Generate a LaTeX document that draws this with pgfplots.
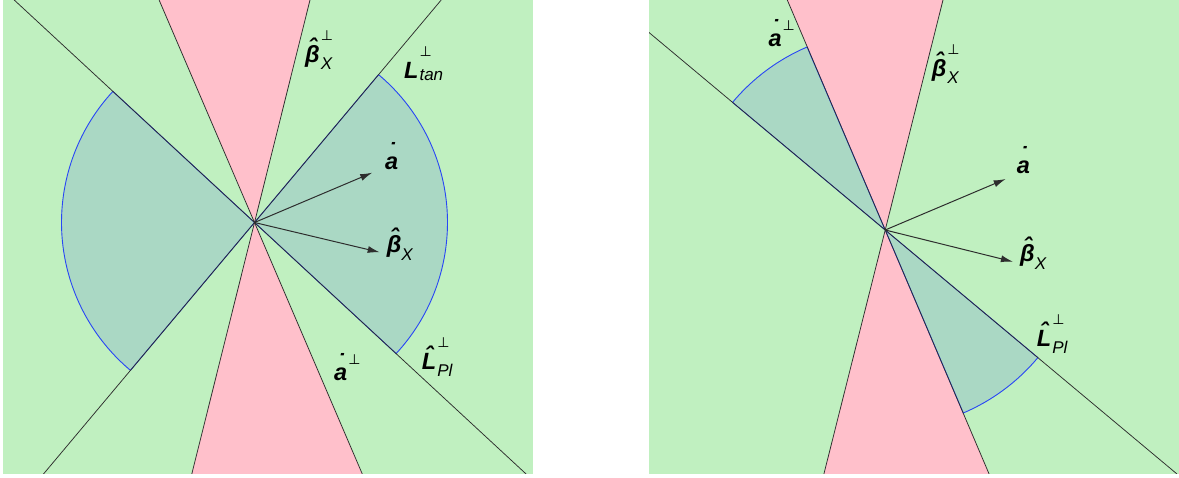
\documentclass[border=0pt]{standalone}
\usepackage{pgfplots}
\pgfplotsset{compat=1.18}
\usetikzlibrary{arrows.meta}
\usepackage{fontspec}
\setmainfont{Liberation Sans}
\newfontfamily\perpfont{DejaVu Sans}

\definecolor{bggreen}{RGB}{192,240,192}
\definecolor{wedgepink}{RGB}{255,192,203}
\definecolor{sectorfill}{RGB}{170,216,196}
\definecolor{arcblue}{RGB}{40,70,245}
\definecolor{ink}{RGB}{45,45,45}

% accent #2 set above base #3, its glyph lifted by (height of base + #1)
\newcommand\Acc[3]{{\setbox0\hbox{#3}\dimen0=\ht0 \advance\dimen0 #1\relax
  \rlap{\hbox to\wd0{\hss\raisebox{\dimen0}[0pt][0pt]{#2}\hss}}\box0}}
\newcommand\HatOn[1]{\Acc{-0.40em}{\char"02C6}{#1}}
\newcommand\DotOn[1]{\Acc{-0.12em}{\char"02D9}{#1}}
% base with a perpendicular sign raised by #2 and subscript #3 dropped by #4
\newcommand\Perp[4]{#1\kern1pt\rlap{\raisebox{#2}{\perpfont\mdseries\upshape\fontsize{14}{14}\selectfont ⊥}}%
  \raisebox{-#4}{\fontsize{17}{17}\selectfont\mdseries\itshape #3}}
\newcommand\Sub[3]{#1\raisebox{-#3}{\fontsize{17}{17}\selectfont\mdseries\itshape #2}}
\tikzset{lab/.style={anchor=base west, inner sep=0pt,
  font=\fontsize{23.5}{23.5}\selectfont\bfseries\itshape}}

\pgfplotsset{panel/.style={anchor=south west, scale only axis, width=530pt, height=474pt,
  hide axis, clip=true},
  edge/.style={draw=ink, line width=0.75pt},
  vec/.style={draw=ink, line width=1pt, -{Latex[length=12pt,width=7pt]}}}

\begin{document}
\begin{tikzpicture}
\useasboundingbox (0,0) rectangle (1179pt,477pt);

% ---- left panel: both cones of admissible directions ----
\begin{axis}[panel, at={(3pt,3pt)}, xmin=-251.5, xmax=278.5, ymin=-251.5, ymax=222.5]
\addplot[draw=none, fill=bggreen] coordinates {(-251.5,-251.5) (278.5,-251.5) (278.5,222.5) (-251.5,222.5)} -- cycle;
\addplot[draw=none, fill=wedgepink] coordinates {(0,0) (-95.4,222.5) (55.5,222.5)} -- cycle;
\addplot[draw=none, fill=wedgepink] coordinates {(0,0) (107.8,-251.5) (-62.7,-251.5)} -- cycle;
\filldraw[fill=sectorfill, draw=arcblue, line width=0.9pt, line join=round] (axis cs:0,0) -- (axis cs:141.6,-131.1) arc[start angle=-42.8, end angle=50, radius=193pt] -- cycle;
\filldraw[fill=sectorfill, draw=arcblue, line width=0.9pt, line join=round] (axis cs:0,0) -- (axis cs:-141.6,131.1) arc[start angle=137.2, end angle=230, radius=193pt] -- cycle;
\addplot[edge] coordinates {(-211.0,-251.5) (186.7,222.5)};
\addplot[edge] coordinates {(-240.3,222.5) (271.6,-251.5)};
\addplot[edge] coordinates {(-95.4,222.5) (107.8,-251.5)};
\addplot[edge] coordinates {(55.5,222.5) (-62.7,-251.5)};
\addplot[vec] coordinates {(0,0) (117.7,49.8)};
\addplot[vec] coordinates {(0,0) (125.2,-29.8)};
\node[lab] at (axis cs:50.5,159.5) {\Perp{\HatOn{β}}{0.95em}{X}{7pt}};
\node[lab] at (axis cs:149.5,143.5) {\Perp{L}{0.95em}{tan}{2pt}};
\node[lab] at (axis cs:130.5,53.2) {\DotOn{a}};
\node[lab] at (axis cs:132.2,-30.5) {\Sub{\HatOn{β}}{X}{8pt}};
\node[lab] at (axis cs:79.5,-158.2) {\Perp{\DotOn{a}}{0.68em}{}{0pt}};
\node[lab] at (axis cs:167.2,-147.5) {\Perp{\HatOn{L}}{0.95em}{Pl}{7pt}};
\end{axis}

% ---- right panel: the narrower cones ----
\begin{axis}[panel, at={(649pt,3pt)}, xmin=-236.2, xmax=293.8, ymin=-244, ymax=230]
\addplot[draw=none, fill=bggreen] coordinates {(-236.2,-244) (293.8,-244) (293.8,230) (-236.2,230)} -- cycle;
\addplot[draw=none, fill=wedgepink] coordinates {(0,0) (-97.9,230) (57.8,230)} -- cycle;
\addplot[draw=none, fill=wedgepink] coordinates {(0,0) (103.9,-244) (-61.3,-244)} -- cycle;
\filldraw[fill=sectorfill, draw=arcblue, line width=0.9pt, line join=round] (axis cs:0,0) -- (axis cs:-78.1,183.0) arc[start angle=113.1, end angle=140.1, radius=199pt] -- cycle;
\filldraw[fill=sectorfill, draw=arcblue, line width=0.9pt, line join=round] (axis cs:0,0) -- (axis cs:78.1,-183.0) arc[start angle=-66.9, end angle=-39.9, radius=199pt] -- cycle;
\addplot[edge] coordinates {(-236.2,197.5) (291.8,-244)};
\addplot[edge] coordinates {(-97.9,230) (103.9,-244)};
\addplot[edge] coordinates {(57.8,230) (-61.3,-244)};
\addplot[vec] coordinates {(0,0) (120.5,51.0)};
\addplot[vec] coordinates {(0,0) (127.7,-31.7)};
\node[lab] at (axis cs:-116.9,183.3) {\Perp{\DotOn{a}}{0.68em}{}{0pt}};
\node[lab] at (axis cs:46.5,153) {\Perp{\HatOn{β}}{0.95em}{X}{7pt}};
\node[lab] at (axis cs:131.5,56.7) {\DotOn{a}};
\node[lab] at (axis cs:134.8,-32) {\Sub{\HatOn{β}}{X}{8pt}};
\node[lab] at (axis cs:151.5,-116.7) {\Perp{\HatOn{L}}{0.95em}{Pl}{7pt}};
\end{axis}
\end{tikzpicture}
\end{document}
